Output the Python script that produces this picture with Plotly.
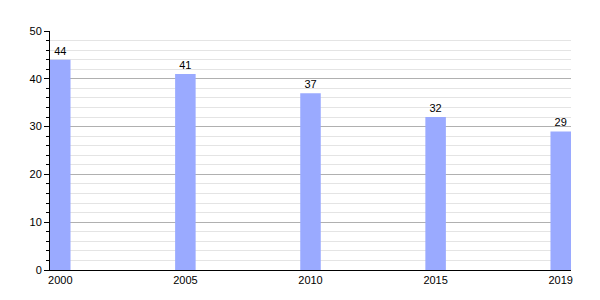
import plotly.graph_objects as go

years = ["2000", "2005", "2010", "2015", "2019"]
values = [44, 41, 37, 32, 29]
positions = list(range(len(years)))

fig = go.Figure()
fig.add_trace(go.Bar(
    x=positions, y=values, width=0.164,
    marker=dict(color="#9aaaff", line=dict(width=0)),
    text=[str(v) for v in values], textposition="outside",
    textfont=dict(family="Liberation Sans, Arial", size=11, color="#000"),
    cliponaxis=False,
))
fig.update_layout(
    width=600, height=300,
    margin=dict(l=50, r=29, t=31, b=30),
    paper_bgcolor="white", plot_bgcolor="white",
    showlegend=False,
    font=dict(family="Liberation Sans, Arial", size=11, color="#000"),
    xaxis=dict(
        range=[-0.082, 4.082], tickmode="array", tickvals=positions, ticktext=years,
        showgrid=False, zeroline=False, showline=True, linecolor="#000", linewidth=1,
        ticks="", ticklabelstandoff=0,
    ),
    yaxis=dict(
        range=[0, 50], tickmode="linear", tick0=0, dtick=10,
        showgrid=True, gridcolor="#b0b0b0", gridwidth=1,
        zeroline=False, showline=True, linecolor="#000", linewidth=1,
        ticks="outside", ticklen=5, tickcolor="#000",
        minor=dict(dtick=2, showgrid=True, gridcolor="#e4e4e4", ticks="outside", ticklen=3, tickcolor="#000"),
    ),
)
fig.write_html("out.html")
